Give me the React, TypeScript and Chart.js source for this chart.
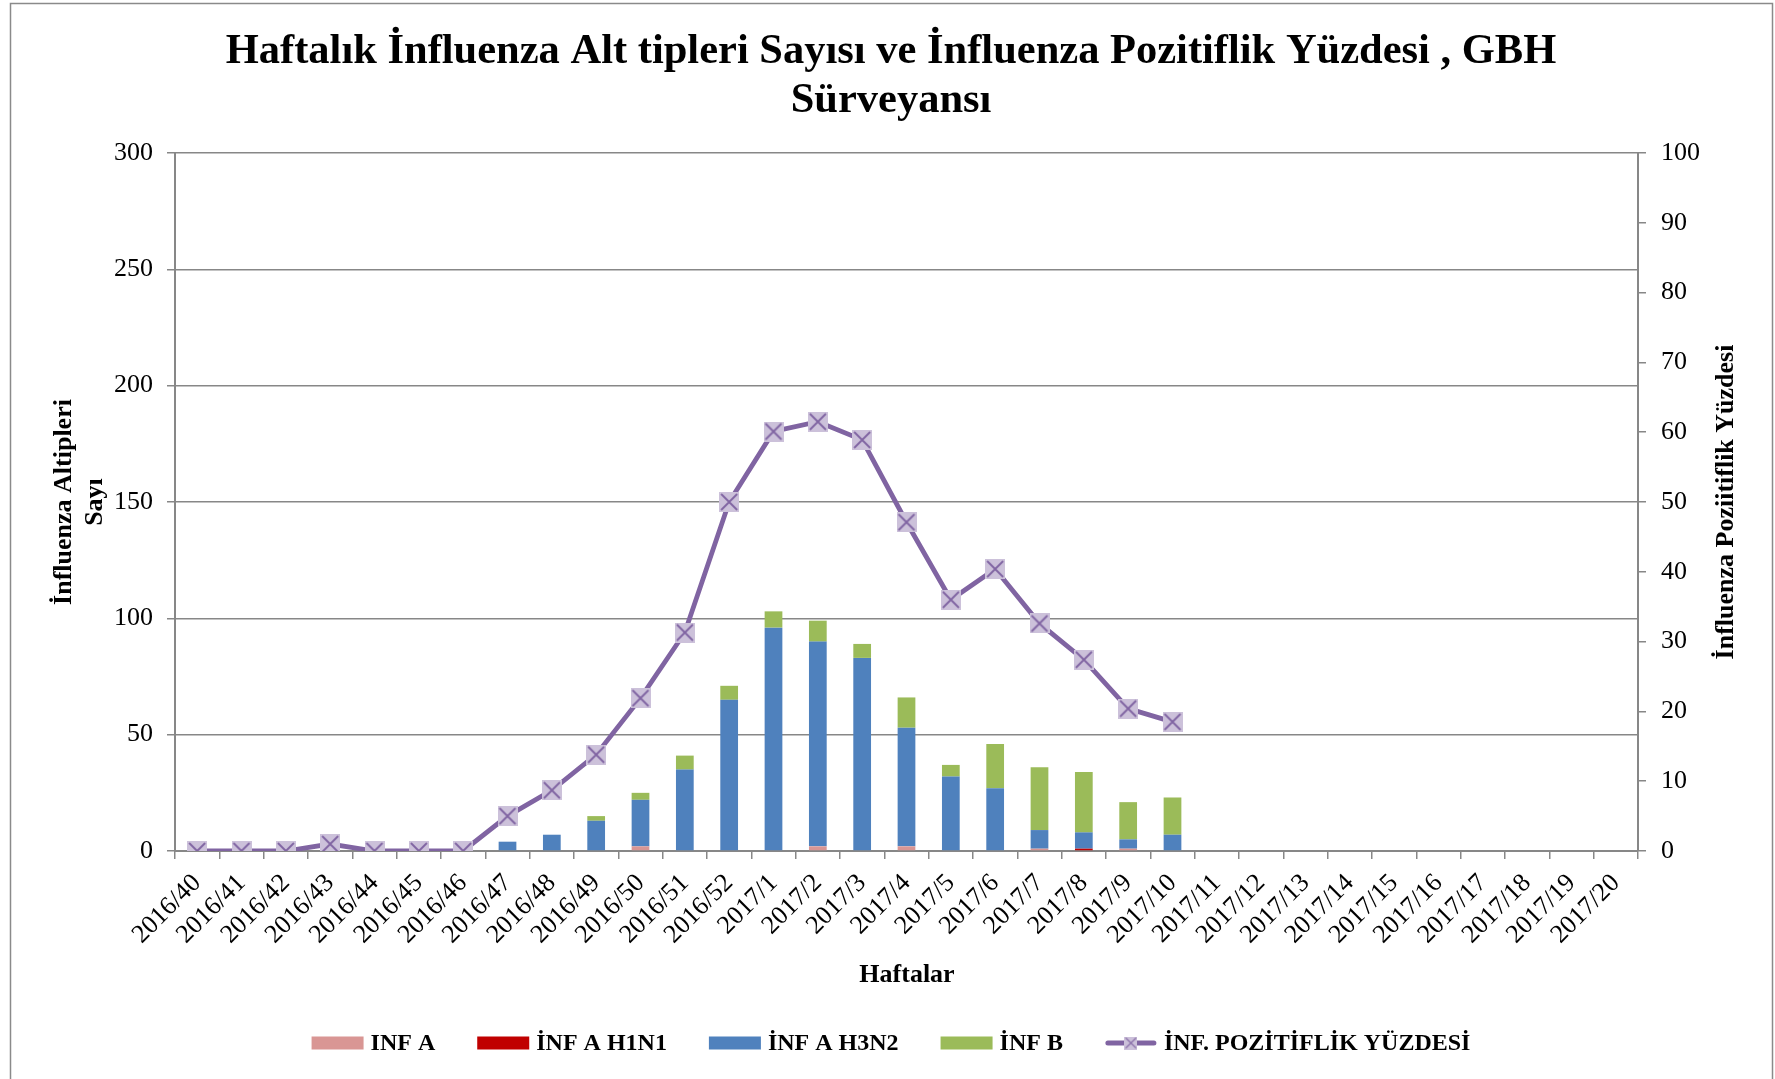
import React, { useEffect, useRef } from "react";
import { Chart, registerables } from "chart.js";

Chart.register(...registerables);

// ---------- data ----------
const weeks: string[] = [
  "2016/40", "2016/41", "2016/42", "2016/43", "2016/44", "2016/45", "2016/46", "2016/47",
  "2016/48", "2016/49", "2016/50", "2016/51", "2016/52", "2017/1", "2017/2", "2017/3",
  "2017/4", "2017/5", "2017/6", "2017/7", "2017/8", "2017/9", "2017/10", "2017/11",
  "2017/12", "2017/13", "2017/14", "2017/15", "2017/16", "2017/17", "2017/18", "2017/19", "2017/20",
];

const infA: (number | null)[] = [0, 0, 0, 0, 0, 0, 0, 0, 0, 0, 2, 0, 0, 0, 2, 0, 2, 0, 0, 1, 0, 1, 0];
const infAH1N1: (number | null)[] = [0, 0, 0, 0, 0, 0, 0, 0, 0, 0, 0, 0, 0, 0, 0, 0, 0, 0, 0, 0, 1, 0, 0];
const infAH3N2: (number | null)[] = [0, 0, 0, 0, 0, 0, 0, 4, 7, 13, 20, 35, 65, 96, 88, 83, 51, 32, 27, 8, 7, 4, 7];
const infB: (number | null)[] = [0, 0, 0, 0, 0, 0, 0, 0, 0, 2, 3, 6, 6, 7, 9, 6, 13, 5, 19, 27, 26, 16, 16];
const positivity: (number | null)[] = [
  0, 0, 0, 1, 0, 0, 0, 5, 8.7, 13.8, 21.9, 31.3, 50, 60.1, 61.5, 58.9, 47.1, 36, 40.4, 32.6, 27.4, 20.4, 18.5,
];

const seriesLabels = ["INF A", "İNF A H1N1", "İNF A H3N2", "İNF B", "İNF. POZİTİFLİK YÜZDESİ"];
const titleLines = ["Haftalık İnfluenza Alt tipleri Sayısı ve İnfluenza Pozitiflik Yüzdesi , GBH", "Sürveyansı"];
const leftAxisTitle = ["İnfluenza Altipleri", "Sayı"];
const rightAxisTitle = "İnfluenza Poziitiflik Yüzdesi";
const xAxisTitle = "Haftalar";

// ---------- styles ----------
const COLORS = {
  infA: "#D99694",
  h1n1: "#C00000",
  h3n2: "#4F81BD",
  infB: "#9BBB59",
  line: "#8064A2",
  markerFill: "#CCC1DA",
  grid: "#878787",
};
const FONT = '"Liberation Serif", "Times New Roman", serif';
const W = 1775;
const H = 1079;
const PLOT = { left: 175, right: 1638, top: 153, bottom: 851 };

function pad(arr: (number | null)[]): (number | null)[] {
  const out = arr.slice();
  while (out.length < weeks.length) out.push(null);
  return out;
}

function makeMarker(size: number): HTMLCanvasElement {
  const c = document.createElement("canvas");
  c.width = size;
  c.height = size;
  const ctx = c.getContext("2d")!;
  ctx.fillStyle = COLORS.markerFill;
  ctx.fillRect(0, 0, size, size);
  ctx.strokeStyle = COLORS.line;
  ctx.lineWidth = Math.max(1.2, size / 11);
  const m = size * 0.1;
  ctx.beginPath();
  ctx.moveTo(m, m);
  ctx.lineTo(size - m, size - m);
  ctx.moveTo(size - m, m);
  ctx.lineTo(m, size - m);
  ctx.stroke();
  return c;
}

const decorPlugin = {
  id: "decor",
  afterDraw(chart: any) {
    const ctx: CanvasRenderingContext2D = chart.ctx;
    ctx.save();
    // outer frame
    ctx.strokeStyle = "#8a8a8a";
    ctx.lineWidth = 1.5;
    ctx.strokeRect(10.5, 3.5, 1762, 1200);

    ctx.fillStyle = "#000";
    ctx.textAlign = "center";
    ctx.textBaseline = "middle";

    // title
    ctx.font = `bold 42.5px ${FONT}`;
    ctx.fillText(titleLines[0], 891, 52);
    ctx.fillText(titleLines[1], 891, 101);

    // axis titles
    ctx.font = `bold 26px ${FONT}`;
    ctx.fillText(xAxisTitle, 907, 975);

    ctx.save();
    ctx.translate(64, 502);
    ctx.rotate(-Math.PI / 2);
    ctx.fillText(leftAxisTitle[0], 0, 0);
    ctx.restore();
    ctx.save();
    ctx.translate(95, 502);
    ctx.rotate(-Math.PI / 2);
    ctx.fillText(leftAxisTitle[1], 0, 0);
    ctx.restore();

    ctx.save();
    ctx.translate(1726, 502);
    ctx.rotate(-Math.PI / 2);
    ctx.fillText(rightAxisTitle, 0, 0);
    ctx.restore();

    // legend
    ctx.font = `bold 24px ${FONT}`;
    const boxW = 52;
    const boxH = 13;
    const gap = 7;
    const spacing = 42;
    const datasets = chart.data.datasets;
    const widths = datasets.map((d: any) => boxW + gap + ctx.measureText(d.label).width);
    const total = widths.reduce((a: number, b: number) => a + b, 0) + spacing * (datasets.length - 1);
    let x = 891 - total / 2;
    const cy = 1043;
    ctx.textAlign = "left";
    datasets.forEach((d: any, i: number) => {
      if (d.type === "line") {
        ctx.strokeStyle = COLORS.line;
        ctx.lineWidth = 5;
        ctx.lineCap = "round";
        ctx.beginPath();
        ctx.moveTo(x + 3, cy);
        ctx.lineTo(x + boxW - 3, cy);
        ctx.stroke();
        const mk = makeMarker(13);
        ctx.drawImage(mk, x + boxW / 2 - 6.5, cy - 6.5);
      } else {
        ctx.fillStyle = d.backgroundColor;
        ctx.fillRect(x, cy - boxH / 2, boxW, boxH);
      }
      ctx.fillStyle = "#000";
      ctx.fillText(d.label, x + boxW + gap, cy + 1);
      x += widths[i] + spacing;
    });
    ctx.restore();
  },
};

export default function App() {
  const canvasRef = useRef<HTMLCanvasElement | null>(null);

  useEffect(() => {
    document.body.style.margin = "0";
    const canvas = canvasRef.current;
    if (!canvas) return;
    const marker = makeMarker(20);
    const chart = new Chart(canvas, {
      type: "bar",
      data: {
        labels: weeks,
        datasets: [
          { type: "bar", label: seriesLabels[0], data: pad(infA), backgroundColor: COLORS.infA, yAxisID: "y", order: 1, stack: "s" },
          { type: "bar", label: seriesLabels[1], data: pad(infAH1N1), backgroundColor: COLORS.h1n1, yAxisID: "y", order: 1, stack: "s" },
          { type: "bar", label: seriesLabels[2], data: pad(infAH3N2), backgroundColor: COLORS.h3n2, yAxisID: "y", order: 1, stack: "s" },
          { type: "bar", label: seriesLabels[3], data: pad(infB), backgroundColor: COLORS.infB, yAxisID: "y", order: 1, stack: "s" },
          {
            type: "line",
            label: seriesLabels[4],
            data: pad(positivity),
            borderColor: COLORS.line,
            backgroundColor: COLORS.markerFill,
            borderWidth: 4.8,
            pointStyle: marker as any,
            pointRadius: 10,
            tension: 0,
            spanGaps: false,
            yAxisID: "y1",
            order: 0,
          } as any,
        ],
      },
      options: {
        responsive: false,
        animation: false,
        devicePixelRatio: 1,
        layout: {
          padding: { left: 0, right: 0, top: PLOT.top, bottom: 0 },
        },
        datasets: {
          bar: { categoryPercentage: 1, barPercentage: 0.4 },
        } as any,
        plugins: {
          legend: { display: false },
          title: { display: false },
          tooltip: { enabled: false },
        },
        scales: {
          x: {
            stacked: true,
            afterFit: (s: any) => { s.height = H - PLOT.bottom; },
            grid: {
              offset: true,
              drawOnChartArea: false,
              drawTicks: true,
              tickLength: 8,
              color: COLORS.grid,
              lineWidth: 1.5,
            },
            border: { display: true, color: COLORS.grid, width: 2 },
            ticks: {
              autoSkip: false,
              minRotation: 45,
              maxRotation: 45,
              padding: 9,
              color: "#000",
              font: { family: FONT, size: 26 },
            },
          },
          y: {
            stacked: true,
            position: "left",
            min: 0,
            max: 300,
            afterFit: (s: any) => { s.width = PLOT.left; },
            grid: {
              drawOnChartArea: true,
              drawTicks: true,
              tickLength: 8,
              color: COLORS.grid,
              lineWidth: 1.5,
            },
            border: { display: true, color: COLORS.grid, width: 2 },
            ticks: {
              stepSize: 50,
              padding: 14,
              color: "#000",
              font: { family: FONT, size: 26 },
            },
          },
          y1: {
            position: "right",
            min: 0,
            max: 100,
            afterFit: (s: any) => { s.width = W - PLOT.right; },
            grid: {
              drawOnChartArea: false,
              drawTicks: true,
              tickLength: 8,
              color: COLORS.grid,
              lineWidth: 1.5,
            },
            border: { display: true, color: COLORS.grid, width: 2 },
            ticks: {
              stepSize: 10,
              padding: 15,
              color: "#000",
              font: { family: FONT, size: 26 },
            },
          },
        },
      } as any,
      plugins: [decorPlugin],
    });
    return () => chart.destroy();
  }, []);

  return (
    <div style={{ position: "absolute", left: 0, top: 0, width: W, height: H, background: "#fff" }}>
      <canvas ref={canvasRef} width={W} height={H} style={{ display: "block", width: W, height: H }} />
    </div>
  );
}
